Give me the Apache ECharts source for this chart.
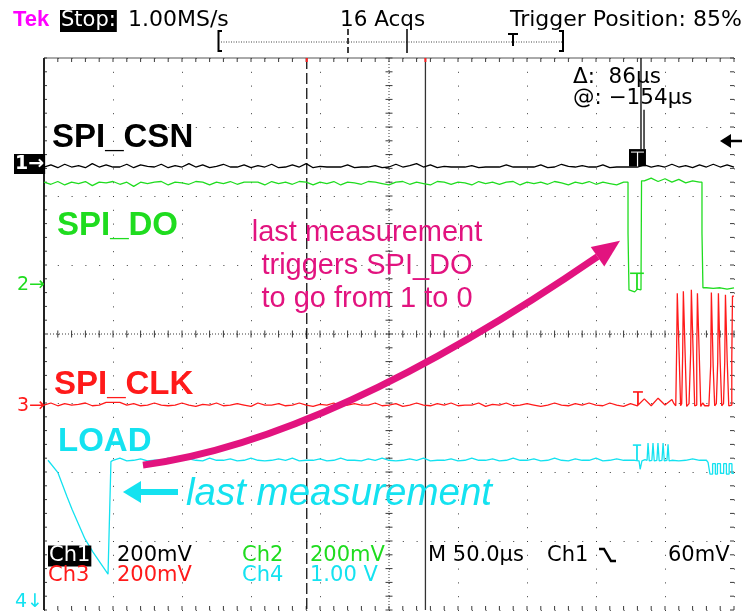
<!DOCTYPE html>
<html>
<head>
<meta charset="utf-8">
<script src="https://cdn.jsdelivr.net/npm/echarts@6/dist/echarts.min.js"></script>
<style>
html,body{margin:0;padding:0;background:#fff;}
#main{width:742px;height:612px;}
</style>
</head>
<body>
<div id="main"></div>
<script>
// Time base: µs from the left edge of the screen (50 µs/div, 10 div).
// Vertical: screen divisions, 0 = centre line (8 div).
const t5 = [0,5,10,15,20,25,30,35,40,45,50,55,60,65,70,75,80,85,90,95,
  100,105,110,115,120,125,130,135,140,145,150,155,160,165,170,175,180,185,190,195,
  200,205,210,215,220,225,230,235,240,245,250,255,260,265,270,275,280,285,290,295,
  300,305,310,315,320,325,330,335,340,345,350,355,360,365,370,375,380,385,390,395,
  400,405,410,415,420,425,430,435,440,445,450,455,460,465,470,475,480,485,490,495,500];

// Ch1 SPI_CSN (stays high over the whole window)
const csnVals = [
  2.42,2.45,2.41,2.46,2.42,2.44,2.41,2.47,2.42,2.45,
  2.42,2.42,2.46,2.41,2.45,2.43,2.42,2.46,2.41,2.44,
  2.42,2.47,2.42,2.45,2.41,2.43,2.46,2.42,2.42,2.45,
  2.41,2.44,2.42,2.46,2.41,2.42,2.45,2.42,2.47,2.41,
  2.43,2.42,2.42,2.42,2.45,2.41,2.42,2.42,2.44,2.41,
  2.42,2.46,2.42,2.44,2.47,2.42,2.45,2.41,2.43,2.42,
  2.42,2.42,2.44,2.41,2.42,2.42,2.42,2.45,2.42,2.42,
  2.42,2.42,2.45,2.41,2.42,2.46,2.43,2.42,2.44,2.42,
  2.42,2.45,2.41,2.42,2.42,2.42,2.42,2.45,2.42,2.44,
  2.42,2.46,2.42,2.44,2.41,2.45,2.42,2.46,2.42,2.45,2.42];
const csnEvents = [];

// Ch2 SPI_DO
const doVals = [
  2.20,2.17,2.21,2.16,2.20,2.18,2.21,2.15,2.20,2.19,
  2.21,2.17,2.20,2.14,2.20,2.18,2.20,2.21,2.16,2.20,
  2.19,2.17,2.21,2.20,2.16,2.20,2.18,2.21,2.17,2.20,
  2.20,2.20,2.16,2.21,2.18,2.20,2.17,2.21,2.20,2.16,
  2.20,2.18,2.21,2.16,2.20,2.19,2.17,2.21,2.20,2.18,
  2.16,2.20,2.21,2.17,2.20,2.18,2.16,2.21,2.20,2.17,
  2.20,2.19,2.16,2.21,2.18,2.20,2.17,2.20,2.21,2.16,
  2.20,2.18,2.20,2.17,2.21,2.19,2.16,2.20,2.18,2.21,
  2.17,2.20,2.18,2.16,2.20,0.64,0.65,2.22,2.26,2.21,
  2.25,2.20,2.24,2.19,2.22,2.20,0.67,0.66,0.67,0.65,0.67];
const doEvents = [[423.2,2.20],[423.2,1.46],[423.9,1.46],[423.9,0.64],[428.0,0.61],
  [432.6,0.64],[433.0,2.22],
  [476.8,2.20],[476.8,1.46],[477.5,1.46],[477.5,0.67]];

// Ch3 SPI_CLK
const clkVals = [
  -1.03,-1.00,-1.04,-1.01,-1.03,-1.02,-1.00,-1.04,-1.03,-0.99,
  -0.99,-0.99,-1.03,-1.01,-1.04,-1.03,-1.00,-1.03,-1.04,-1.03,
  -1.00,-1.03,-1.05,-1.02,-1.03,-1.00,-1.04,-1.03,-1.01,-1.03,
  -1.05,-1.00,-1.03,-1.03,-1.01,-1.04,-1.03,-1.00,-1.03,-1.05,
  -1.02,-1.03,-1.00,-1.04,-1.03,-1.01,-1.03,-1.03,-1.00,-1.04,
  -1.03,-1.01,-1.05,-1.03,-1.00,-1.03,-1.04,-1.01,-1.03,-1.00,
  -1.04,-1.03,-1.03,-1.00,-1.05,-1.02,-1.03,-1.00,-1.04,-1.03,
  -1.01,-1.03,-1.05,-1.03,-1.00,-1.03,-1.04,-1.01,-1.03,-1.00,
  -1.03,-1.04,-1.00,-1.03,-1.05,-1.01,-1.04,-0.94,-1.04,-0.93,
  -1.03,-0.95,null,null,null,null,null,null,null,null,null];
const clkEvents = [[456.5,-1.01],[457.8,-1.04],
  [458.4,-1.03],[458.4,-0.28],[458.9,-0.28],[458.9,0.59],[460.2,0.59],[460.2,-0.28],[461.3,-0.28],[461.3,-1.04],[462.1,-1.01],
  [462.8,-1.03],[462.8,-0.30],[463.3,-0.30],[463.3,0.62],[464.6,0.62],[464.6,-0.30],[465.7,-0.30],[465.7,-1.05],[467.4,-1.01],
  [468.6,-1.03],[468.6,-0.27],[469.1,-0.27],[469.1,0.64],[470.4,0.64],[470.4,-0.27],[471.5,-0.27],[471.5,-1.04],
  [473.0,-1.03],[473.0,-0.29],[473.5,-0.29],[473.5,0.59],[474.8,0.59],[474.8,-0.29],[475.9,-0.29],[475.9,-1.05],
  [477.3,-1.00],[478.8,-1.04],[480.2,-1.02],[481.8,-1.04],
  [483.1,-1.03],[483.1,-0.46],[483.6,-0.46],[483.6,0.60],[484.9,0.60],[484.9,-0.46],[486.0,-0.46],[486.0,-1.04],[487.2,-1.01],
  [488.2,-1.03],[488.2,-0.41],[488.7,-0.41],[488.7,0.59],[490.0,0.59],[490.0,-0.41],[491.1,-0.41],[491.1,-1.04],[492.4,-1.01],
  [493.3,-1.03],[493.3,-0.40],[493.8,-0.40],[493.8,0.57],[495.1,0.57],[495.1,-0.40],[496.2,-0.40],[496.2,-1.04],[497.5,-1.02],
  [498.4,-1.03],[498.4,-0.36],[498.9,-0.36],[498.9,0.55],[500.0,0.55]];

// Ch4 LOAD
const loadVals = [
  null,null,null,null,null,null,null,null,null,null,
  -1.83,-1.80,-1.84,-1.83,-1.81,-1.84,-1.83,-1.83,-1.80,-1.84,
  -1.83,-1.81,-1.83,-1.84,-1.80,-1.83,-1.83,-1.81,-1.84,-1.83,
  -1.80,-1.83,-1.84,-1.83,-1.81,-1.83,-1.80,-1.84,-1.83,-1.83,
  -1.81,-1.84,-1.83,-1.80,-1.83,-1.83,-1.84,-1.81,-1.83,-1.80,
  -1.83,-1.84,-1.83,-1.81,-1.83,-1.80,-1.84,-1.83,-1.83,-1.81,
  -1.84,-1.83,-1.80,-1.83,-1.83,-1.81,-1.84,-1.83,-1.80,-1.83,
  -1.83,-1.81,-1.84,-1.83,-1.80,-1.83,-1.84,-1.81,-1.83,-1.83,
  -1.80,-1.84,-1.83,-1.81,-1.83,-1.83,null,null,null,null,
  null,-1.83,-1.84,-1.83,-1.81,-1.83,null,null,null,null,null];
const loadEvents = [
  [2.9,-1.83],[10.1,-2.01],[16.7,-2.36],[20.3,-2.54],[29.7,-2.97],[35.5,-3.16],[46.4,-3.48],[47.1,-3.49],[48.5,-1.85],[49.3,-1.83],
  [428.0,-1.83],[431.2,-1.84],[432.0,-1.96],[433.3,-1.84],[435.5,-1.82],[437.0,-1.83],[437.7,-1.58],[438.6,-1.84],
  [440.5,-1.83],[441.3,-1.58],[442.2,-1.84],[444.1,-1.83],[444.9,-1.58],[445.8,-1.84],[447.8,-1.83],[448.6,-1.58],
  [449.5,-1.84],[451.4,-1.83],[452.2,-1.60],[453.0,-1.84],
  [480.0,-1.83],[481.2,-1.86],[482.6,-1.86],[482.6,-2.03],[484.5,-2.03],[484.5,-1.88],[486.5,-1.88],[486.5,-2.03],
  [488.0,-2.03],[488.0,-1.88],[490.2,-1.88],[490.2,-2.02],[492.5,-2.02],[492.5,-1.88],[494.5,-1.88],[494.5,-2.03],
  [496.5,-2.03],[496.5,-1.88],[498.5,-1.88],[498.5,-2.02],[500.0,-2.02]];

// Trigger "T" glitches on ch2..ch4: [centre µs, half width µs, top div, bottom div]
const tMarks = [[429.7,5.0,0.88,0.64],[430.4,3.6,-0.84,-1.03],[429.7,3.0,-1.61,-1.83]];
// Time cursors (µs): dashed and solid
const cursorTimes = [190.4, 276.4];
// Cursor readout marker on ch1
const csnMarker = {box:[423.9,436.2,2.68,2.43], gap:430.1, stems:[[432.6,4.0,2.68],[434.8,3.25,2.68]]};
// Annotation arrows (data coordinates)
const pinkArrow = {start:[71.7,-1.90], ctrl:[207.2,-1.54], end:[401.1,1.12], tip:[417.4,1.35], wings:[[396.2,1.26],[406.0,0.98]]};
const cyanArrow = {shaft:[[69.0,-2.29],[97.1,-2.29]], tip:[57.2,-2.29], wings:[[70.3,-2.13],[70.3,-2.45]]};

const C1 = '#000000', C2 = '#1fdc1f', C3 = '#ff1a1a', C4 = '#14e2f0', PINK = '#e2137f';
const colors = [C2, C3, C4];

function trace(vals, events) {
  const pts = [];
  vals.forEach((v, i) => { if (v !== null) pts.push([t5[i], v]); });
  events.forEach(e => pts.push(e));
  pts.sort((a, b) => a[0] - b[0]);
  return pts;
}

const chart = echarts.init(document.getElementById('main'), null, {renderer: 'canvas'});

function gratItem(params, api) {
  const P = (t, d) => api.coord([t, d]);
  const ch = [];
  const ln = (a, b, style) => ch.push({type: 'line', shape: {x1: a[0], y1: a[1], x2: b[0], y2: b[1]}, style: style, silent: true});
  const g = '#3a3a3a';
  // centre cross
  ln(P(250, 4), P(250, -4), {stroke: g, lineWidth: 1, lineDash: [1, 2]});
  ln(P(0, 0), P(500, 0), {stroke: g, lineWidth: 1, lineDash: [1, 2]});
  for (let k = -20; k <= 20; k++) {
    const p = P(250, k / 5);
    ln([p[0] - 3.5, p[1]], [p[0] + 3.5, p[1]], {stroke: g, lineWidth: 1});
    const q = P(0, 4), r = P(500, 4);
    ln([q[0], p[1]], [q[0] + 3, p[1]], {stroke: g, lineWidth: 1});
    ln([r[0] - 4, p[1]], [r[0], p[1]], {stroke: g, lineWidth: 1});
  }
  for (let k = 0; k <= 50; k++) {
    const p = P(k * 10, 0), top = P(k * 10, 4), bot = P(k * 10, -4);
    ln([p[0], p[1] - 3.5], [p[0], p[1] + 3.5], {stroke: g, lineWidth: 1});
    ln([top[0], top[1]], [top[0], top[1] + 4], {stroke: g, lineWidth: 1});
    ln([bot[0], bot[1] - 4], [bot[0], bot[1]], {stroke: g, lineWidth: 1});
  }
  // frame edges
  ln(P(0, 4), P(500, 4), {stroke: '#555', lineWidth: 1});
  ln(P(0, 4), P(0, -4), {stroke: '#222', lineWidth: 2});
  return {type: 'group', children: ch};
}

function cursorItem(params, api) {
  const t = api.value(0), i = params.dataIndex;
  const a = api.coord([t, 4]), b = api.coord([t, -4]);
  return {type: 'group', children: [
    {type: 'line', shape: {x1: a[0], y1: a[1], x2: b[0], y2: b[1]},
      style: i === 0 ? {stroke: '#111', lineWidth: 1.3, lineDash: [11, 4]} : {stroke: '#333', lineWidth: 1.3}},
    {type: 'line', shape: {x1: a[0], y1: a[1], x2: a[0], y2: a[1] + 4}, style: {stroke: '#ff2020', lineWidth: 2}}
  ]};
}

function tMarkItem(params, api) {
  const c = api.value(0), h = api.value(1), top = api.value(2), bot = api.value(3);
  const l = api.coord([c - h, top]), r = api.coord([c + h, top]), s = api.coord([c, bot]);
  const col = colors[params.dataIndex];
  return {type: 'group', children: [
    {type: 'line', shape: {x1: l[0], y1: l[1], x2: r[0], y2: r[1]}, style: {stroke: col, lineWidth: 1.6}},
    {type: 'line', shape: {x1: s[0], y1: l[1], x2: s[0], y2: s[1]}, style: {stroke: col, lineWidth: 1.8}}
  ]};
}

function markerItem(params, api) {
  const b = csnMarker.box;
  const p1 = api.coord([b[0], b[2]]), p2 = api.coord([b[1], b[3]]);
  const g1 = api.coord([csnMarker.gap, b[2]]), g2 = api.coord([csnMarker.gap, b[3]]);
  const ch = [
    {type: 'rect', shape: {x: p1[0], y: p1[1], width: p2[0] - p1[0], height: p2[1] - p1[1]}, style: {fill: '#000'}},
    {type: 'line', shape: {x1: g1[0], y1: g1[1] + 3, x2: g2[0], y2: g2[1]}, style: {stroke: '#fff', lineWidth: 1.2}},
    {type: 'line', shape: {x1: p1[0] + 2, y1: p1[1] + 3, x2: p2[0] - 2, y2: p1[1] + 3}, style: {stroke: '#fff', lineWidth: 1}}
  ];
  csnMarker.stems.forEach(s => {
    const a = api.coord([s[0], s[1]]), z = api.coord([s[0], s[2]]);
    ch.push({type: 'line', shape: {x1: a[0], y1: a[1], x2: z[0], y2: z[1]}, style: {stroke: '#000', lineWidth: 1.3}});
  });
  return {type: 'group', children: ch};
}

function arrowItem(params, api) {
  const P = v => api.coord(v);
  const s = P(pinkArrow.start), c = P(pinkArrow.ctrl), e = P(pinkArrow.end);
  const ch = [
    {type: 'bezierCurve', shape: {x1: s[0], y1: s[1], x2: e[0], y2: e[1], cpx1: c[0], cpy1: c[1]},
      style: {stroke: PINK, lineWidth: 7, fill: null, lineCap: 'butt'}},
    {type: 'polygon', shape: {points: [P(pinkArrow.tip), P(pinkArrow.wings[0]), P(pinkArrow.wings[1])]}, style: {fill: PINK}}
  ];
  const a0 = P(cyanArrow.shaft[0]), a1 = P(cyanArrow.shaft[1]);
  ch.push({type: 'line', shape: {x1: a0[0], y1: a0[1], x2: a1[0], y2: a1[1]}, style: {stroke: C4, lineWidth: 6}});
  ch.push({type: 'polygon', shape: {points: [P(cyanArrow.tip), P(cyanArrow.wings[0]), P(cyanArrow.wings[1])]}, style: {fill: C4}});
  return {type: 'group', children: ch};
}

const MONO = '"DejaVu Sans", sans-serif';
const SANS = '"Liberation Sans", Arial, sans-serif';
function txt(text, x, y, fill, size, extra) {
  return Object.assign({type: 'text', silent: true, z: 50,
    style: Object.assign({text: text, x: x, y: y, fill: fill, fontSize: size, fontFamily: MONO,
      align: 'left', verticalAlign: 'middle'}, extra || {})});
}
const lineEl = (pts, stroke, w, dash) => ({type: 'polyline', silent: true, z: 50,
  shape: {points: pts}, style: {stroke: stroke, lineWidth: w, fill: null, lineDash: dash || null}});

const graphics = [
  // header
  txt('Tek', 13, 20, '#ff00ff', 22, {fontFamily: SANS, fontWeight: 'bold'}),
  txt('Stop:', 60, 21, '#fff', 21, {backgroundColor: '#000', padding: [1, 1, 0, 1]}),
  txt('1.00MS/s', 128, 20, '#000', 22),
  txt('16 Acqs', 340, 20, '#000', 21.5),
  txt('Trigger Position: 85%', 510, 20, '#000', 22),
  // record bar
  lineEl([[221, 42], [562, 42]], '#444', 1, [1, 1.5]),
  lineEl([[222, 31], [218.5, 31], [218.5, 51], [222, 51]], '#000', 2),
  lineEl([[559, 31], [563, 31], [563, 51], [559, 51]], '#000', 2),
  lineEl([[348, 29], [348, 53]], '#000', 1.5, [6, 3]),
  lineEl([[407, 29], [407, 53]], '#000', 1.5),
  lineEl([[508, 34], [518, 34]], '#000', 2),
  lineEl([[513, 34], [513, 46]], '#000', 2),
  // cursor readout
  txt('\u0394:  86\u00b5s', 573, 77, '#000', 21.5),
  txt('@: \u2212154\u00b5s', 573, 98, '#000', 21.5),
  // trigger level arrow
  {type: 'polygon', silent: true, z: 50, shape: {points: [[720, 141], [731, 134], [731, 148]]}, style: {fill: '#000'}},
  lineEl([[729, 141], [742, 141]], '#000', 2.5),
  // channel names
  txt('SPI_CSN', 52, 138, C1, 33, {fontFamily: SANS, fontWeight: 'bold'}),
  txt('SPI_DO', 57, 226, C2, 33, {fontFamily: SANS, fontWeight: 'bold'}),
  txt('SPI_CLK', 54, 385, C3, 33, {fontFamily: SANS, fontWeight: 'bold'}),
  txt('LOAD', 58, 442, C4, 33, {fontFamily: SANS, fontWeight: 'bold'}),
  // channel ground markers
  txt('1\u2192', 14, 164, '#fff', 19, {backgroundColor: '#000', padding: [1, 1, 0, 1], fontWeight: 'bold'}),
  txt('2\u2192', 17, 285, C2, 19),
  txt('3\u2192', 17, 406, C3, 19),
  txt('4\u2193', 15, 602, C4, 19),
  // notes
  txt('last measurement', 367, 233, PINK, 29, {fontFamily: SANS, align: 'center'}),
  txt('triggers SPI_DO', 367, 266, PINK, 29, {fontFamily: SANS, align: 'center'}),
  txt('to go from 1 to 0', 367, 299, PINK, 29, {fontFamily: SANS, align: 'center'}),
  txt('last measurement', 186, 494, C4, 38.5, {fontFamily: SANS, fontStyle: 'italic'}),
  // scale readouts
  txt('Ch1', 48, 556, '#fff', 21, {backgroundColor: '#000', padding: [0, 1, 0, 1]}),
  txt('200mV', 117, 556, '#000', 21),
  txt('Ch2', 242, 556, C2, 21),
  txt('200mV', 310, 556, C2, 21),
  txt('M 50.0\u00b5s', 428, 556, '#000', 21),
  txt('Ch1', 547, 556, '#000', 21),
  lineEl([[599, 549], [604, 549], [611, 561], [616, 561]], '#000', 2.4),
  txt('60mV', 668, 556, '#000', 21),
  txt('Ch3', 48, 576, C3, 21),
  txt('200mV', 117, 576, C3, 21),
  txt('Ch4', 242, 576, C4, 21),
  txt('1.00 V', 310, 576, C4, 21)
];

const dotted = {show: true, lineStyle: {color: '#3a3a3a', width: 1, type: [1, 12.8]}};
const lineSeries = (data, color, z) => ({type: 'line', data: data, showSymbol: false, symbol: 'none',
  lineStyle: {color: color, width: 1.3}, animation: false, z: z, silent: true});

chart.setOption({
  animation: false,
  backgroundColor: '#fff',
  grid: {left: 44, top: 58, width: 690, height: 552, show: false},
  xAxis: {type: 'value', min: 0, max: 500, interval: 50, axisLine: {show: false}, axisTick: {show: false},
    axisLabel: {show: false}, splitLine: dotted},
  yAxis: {type: 'value', min: -4, max: 4, interval: 1, axisLine: {show: false}, axisTick: {show: false},
    axisLabel: {show: false}, splitLine: dotted},
  graphic: graphics,
  series: [
    {type: 'custom', renderItem: gratItem, data: [[0, 0]], z: 1, silent: true, clip: false},
    {type: 'custom', renderItem: cursorItem, data: cursorTimes.map(t => [t]), z: 2, silent: true, clip: false},
    lineSeries(trace(loadVals, loadEvents), C4, 3),
    lineSeries(trace(clkVals, clkEvents), C3, 4),
    lineSeries(trace(doVals, doEvents), C2, 5),
    lineSeries(trace(csnVals, csnEvents), C1, 6),
    {type: 'custom', renderItem: tMarkItem, data: tMarks, z: 7, silent: true, clip: false},
    {type: 'custom', renderItem: markerItem, data: [[0]], z: 8, silent: true, clip: false},
    {type: 'custom', renderItem: arrowItem, data: [[0]], z: 9, silent: true, clip: false}
  ]
});
</script>
</body>
</html>
